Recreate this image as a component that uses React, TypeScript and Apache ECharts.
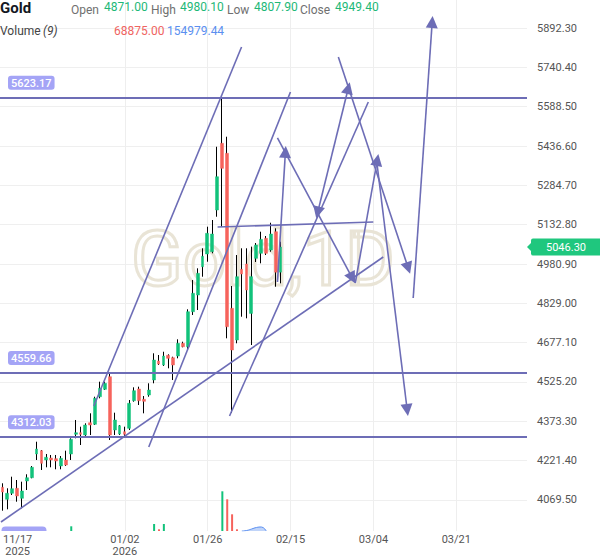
import React, { useEffect, useRef } from 'react';
import * as echarts from 'echarts';

const barCount = 108;
const tickIndex = [3, 25, 42, 59, 76, 93];
const tickLabels = ['11/17\n2025', '01/02\n2026', '01/26', '02/15', '03/04', '03/21'];
const gridTickIndex = [25, 42, 59, 76, 93];

const opens = [4118.5, 4072.1, 4095.3, 4114.6, 4076.0, 4142.8, 4155.5, 4247.1, 4259.8, 4223.9,
  4231.6, 4228.9, 4200.7, 4223.9, 4247.1, 4323.1, 4329.3, 4320.4, 4367.9, 4361.8,
  4468.3, 4496.9, 4545.6, 4339.8, 4324.3, 4333.2, 4346.3, 4452.9, 4498.1, 4458.3,
  4474.9, 4532.8, 4606.2, 4590.8, 4628.2, 4619.0, 4625.5, 4674.6, 4661.4, 4796.6,
  4861.1, 4970.4, 5019.5, 5028.3, 5189.4, 5447.0, 5408.4, 4809.7, 4687.3, 4960.4,
  4980.8, 4790.0, 5002.8, 5022.2, 5080.1, 5034.9, 5105.6, 4949.4];
const closes = [4100.3, 4095.3, 4113.0, 4084.8, 4104.2, 4155.5, 4195.7, 4266.4, 4211.1, 4234.3,
  4223.9, 4220.0, 4230.4, 4204.6, 4303.8, 4329.3, 4323.1, 4359.0, 4359.0, 4462.2,
  4500.7, 4520.1, 4320.4, 4378.4, 4356.3, 4323.1, 4442.9, 4491.5, 4452.9, 4450.6,
  4494.2, 4610.1, 4594.6, 4625.5, 4616.6, 4590.8, 4674.6, 4661.4, 4796.6, 4867.7,
  4944.9, 5010.6, 5099.4, 5096.7, 5318.0, 5350.4, 4738.7, 4648.7, 4931.8, 4942.2,
  4880.4, 4932.0, 5054.2, 5076.2, 5022.2, 5096.7, 4949.4, 5046.3];
const lows = [4028.1, 4033.5, 4088.7, 4062.8, 4037.3, 4108.0, 4153.2, 4223.9, 4185.3, 4195.7,
  4195.7, 4188.0, 4188.0, 4200.7, 4223.9, 4307.7, 4281.8, 4313.9, 4320.4, 4359.0,
  4462.2, 4494.2, 4301.1, 4320.4, 4320.4, 4312.03, 4339.8, 4449.0, 4436.3, 4404.2,
  4468.3, 4520.1, 4590.8, 4586.9, 4578.0, 4532.8, 4616.6, 4659.1, 4651.4, 4783.9,
  4803.2, 4931.8, 4989.7, 5022.2, 5163.5, 5124.9, 4693.9, 4405.4, 4674.6, 4777.3,
  4771.1, 4668.0, 4988.6, 4983.5, 5015.6, 5028.3, 4893.2, 4906.3];
const highs = [4133.9, 4114.6, 4159.4, 4146.6, 4140.1, 4168.7, 4200.7, 4294.5, 4262.5, 4247.1,
  4243.2, 4243.2, 4239.3, 4259.8, 4307.7, 4378.4, 4352.5, 4365.6, 4404.2, 4468.3,
  4526.3, 4526.3, 4559.66, 4406.6, 4359.0, 4352.5, 4455.6, 4504.6, 4507.0, 4471.0,
  4520.1, 4636.0, 4629.4, 4642.1, 4632.1, 4622.8, 4690.0, 4680.8, 4805.9, 4919.0,
  4964.2, 5041.5, 5124.9, 5150.8, 5433.8, 5623.17, 5472.5, 4895.9, 5015.6, 5041.5,
  5041.5, 5048.0, 5061.9, 5105.6, 5089.0, 5140.3, 5118.7, 5067.0];

const volumeIndex = [14, 31, 32, 33, 45, 46, 47, 48];
const volumeValues = [17700, 26400, 6400, 26400, 149500, 119400, 62900, 6400];
const volumeUp = [true, true, false, true, true, false, false, false];
const volumeMaIndex = [49, 50, 51, 52, 53, 54];
const volumeMaValues = [0, 1900, 7500, 13200, 15100, 0];

const levelPrices = [5623.17, 4559.66, 4312.03];
const lastPrice = 5046.3;

// [startIndex, startPrice, endIndex, endPrice, headAtStart, headAtEnd]
const segments: [number, number, number, number, boolean, boolean][] = [
  [18.73, 4432.5, 49.0, 5819.0, false, false],
  [-0.3, 3984.5, 78.04, 5007.9, false, false],
  [29.98, 4274.2, 59.02, 5645.2, false, false],
  [46.54, 4393.8, 74.98, 5606.6, false, false],
  [44.09, 5123.8, 76.0, 5143.1, false, false],
  [56.36, 4911.4, 57.99, 5413.5, false, true],
  [56.36, 5467.6, 71.7, 4926.8, false, true],
  [72.31, 4907.5, 76.82, 5382.5, false, true],
  [64.6, 5180.0, 70.88, 5660.5, true, true],
  [68.84, 5780.4, 83.16, 4965.4, false, true],
  [76.82, 5359.4, 82.95, 4416.9, false, true],
  [84.18, 4849.5, 88.07, 5915.4, false, true],
];

const noteTexts = ['1st signal', 'A', '1st early confirmation'];
const noteIndex = [47.22, 44.9, 61.95];
const notePrice = [4594.0, 4424.7, 4356.4];

const headerLabels = ['Open', 'High', 'Low', 'Close'];
const headerValues = [4871.0, 4980.1, 4807.9, 4949.4];
const volumeHeader = [68875.0, 154979.44];

const GREEN = '#12c27b';
const RED = '#f6635c';
const LINE = '#6d6db6';

export default function App() {
  const ref = useRef<HTMLDivElement>(null);
  useEffect(() => {
    document.body.style.margin = '0';
    if (!ref.current) return;
    const chart = echarts.init(ref.current, null, { renderer: 'svg' });
    const categories = Array.from({ length: barCount }, (_, i) => String(i));
    const candleData = opens.map((o, i) => [o, closes[i], lows[i], highs[i]]);
    const bodyData = opens.map((o, i) => [o, closes[i], Math.min(o, closes[i]), Math.max(o, closes[i])]);
    const vol: any[] = opens.map(() => null);
    volumeIndex.forEach((idx, k) => {
      vol[idx] = { value: volumeValues[k], itemStyle: { color: volumeUp[k] ? GREEN : RED } };
    });
    const volMa: any[] = opens.map(() => null);
    volumeMaIndex.forEach((idx, k) => { volMa[idx] = volumeMaValues[k]; });

    const headerXs = [71, 151, 227, 300];
    const valueXs = [104, 180, 254, 335];
    const graphics: any[] = [
      { id: 'wm', type: 'text', x: 263, y: 259, z: 1, silent: true,
        style: { text: 'Gold,1D', font: '76px Roboto', fill: 'rgba(255,255,255,0)', stroke: '#e9e4d6', lineWidth: 3, align: 'center', verticalAlign: 'middle' } },
      { id: 'h0', type: 'text', x: 0, y: 8, z: 100, style: { text: 'Gold', font: 'bold 15px Roboto', fill: '#131722', verticalAlign: 'middle' } },
      { id: 'h1', type: 'text', x: 0, y: 31, z: 100, style: { text: 'Volume', font: '12px Roboto', fill: '#444', verticalAlign: 'middle' } },
      { id: 'h2', type: 'text', x: 43, y: 31, z: 100, style: { text: '(9)', font: 'italic 12px Roboto', fill: '#444', verticalAlign: 'middle' } },
      { id: 'h3', type: 'text', x: 114, y: 31, z: 100, style: { text: volumeHeader[0].toFixed(2), font: '12px Roboto', fill: '#ef6461', verticalAlign: 'middle' } },
      { id: 'h4', type: 'text', x: 167, y: 31, z: 100, style: { text: volumeHeader[1].toFixed(2), font: '12px Roboto', fill: '#5b8ff0', verticalAlign: 'middle' } },
      { id: 'bl', type: 'rect', z: 100, shape: { x: 1.5, y: 526.5, width: 45, height: 4.5, r: [4, 4, 0, 0] }, style: { fill: '#a4a4f6' } },
    ];
    headerLabels.forEach((t, i) => {
      graphics.push({ id: 'hl' + i, type: 'text', x: headerXs[i], y: 10, z: 100, style: { text: t, font: '12px Roboto', fill: '#707070', verticalAlign: 'middle' } });
      graphics.push({ id: 'hv' + i, type: 'text', x: valueXs[i], y: 6.5, z: 100, style: { text: headerValues[i].toFixed(2), font: '12px Roboto', fill: '#1db877', verticalAlign: 'middle' } });
    });

    const markData: any[] = levelPrices.map((p) => ({
      yAxis: p,
      symbol: 'none',
      lineStyle: { color: LINE, width: 2, type: 'solid' },
      label: {
        show: true, position: 'insideStartTop', formatter: () => p.toFixed(2), distance: 8,
        color: '#fff', backgroundColor: '#a4a4f6', padding: [2, 3, 1, 3], borderRadius: 3, fontSize: 11, fontWeight: 500,
      },
    }));
    segments.forEach(([x1, p1, x2, p2, h1, h2]) => {
      markData.push([
        { coord: [x1, p1], symbol: h1 ? 'triangle' : 'none', symbolSize: [12, 12] },
        { coord: [x2, p2], symbol: h2 ? 'triangle' : 'none', symbolSize: [12, 12] },
      ]);
    });

    const option: any = {
      animation: false,
      textStyle: { fontFamily: 'Roboto' },
      graphic: { elements: graphics },
      grid: [
        { left: 0, width: 527, top: 0, height: 539.3 },
        { left: 2.44, width: 522.1, top: 0, height: 531 },
      ],
      xAxis: [
        { type: 'category', gridIndex: 0, data: categories, show: false, boundaryGap: true },
        {
          type: 'category', gridIndex: 1, data: categories, boundaryGap: false,
          axisLine: { show: false }, axisTick: { show: false },
          axisLabel: {
            interval: (i: number) => tickIndex.includes(i),
            formatter: (_v: string, i: number) => tickLabels[tickIndex.indexOf(i)] ?? '',
            color: '#555', fontSize: 11, lineHeight: 12, margin: 2,
          },
          splitLine: { show: true, interval: (i: number) => gridTickIndex.includes(i), lineStyle: { color: '#eeeeee', width: 1 } },
        },
        { type: 'value', gridIndex: 0, min: -0.5, max: 107.5, show: false },
      ],
      yAxis: [
        {
          type: 'value', gridIndex: 0, position: 'right', min: 3917.6, max: 6000.56, interval: 151.9,
          axisLine: { show: false }, axisTick: { show: false },
          axisLabel: { formatter: (v: number) => v.toFixed(2), color: '#555', fontSize: 11, margin: 10, showMinLabel: false, showMaxLabel: false },
          splitLine: { lineStyle: { color: '#efefef' }, showMinLine: false, showMaxLine: false },
        },
        { type: 'value', gridIndex: 1, min: 0, max: 2000000, show: false },
      ],
      series: [
        { type: 'bar', xAxisIndex: 1, yAxisIndex: 1, data: vol, barWidth: 2, z: 1 },
        {
          type: 'line', xAxisIndex: 1, yAxisIndex: 1, data: volMa, smooth: true, symbol: 'none', z: 1,
          lineStyle: { color: '#5b8ff0', width: 1 }, areaStyle: { color: 'rgba(91,143,240,0.55)' },
        },
        {
          type: 'candlestick', xAxisIndex: 0, yAxisIndex: 0, data: candleData, barWidth: 1, z: 3,
          itemStyle: { color: '#000', color0: '#000', borderColor: '#000', borderColor0: '#000', borderWidth: 1 },
        },
        {
          type: 'candlestick', xAxisIndex: 0, yAxisIndex: 0, data: bodyData, barWidth: 3.3, z: 4,
          itemStyle: { color: GREEN, color0: RED, borderColor: GREEN, borderColor0: RED, borderWidth: 0.5 },
        },
        {
          type: 'line', xAxisIndex: 2, yAxisIndex: 0, data: [], z: 5,
          markLine: {
            silent: true, animation: false, symbol: 'none',
            lineStyle: { color: LINE, width: 1.6, type: 'solid' },
            itemStyle: { color: LINE },
            label: { show: false },
            emphasis: { disabled: true },
            data: markData,
          },
        },
        {
          type: 'scatter', xAxisIndex: 2, yAxisIndex: 0, symbolSize: 1, z: 6,
          itemStyle: { opacity: 0 },
          data: noteTexts.map((t, i) => ({ value: [noteIndex[i], notePrice[i]], name: t })),
          label: {
            show: true, position: 'inside', formatter: (p: any) => p.name,
            color: '#fff', backgroundColor: '#f40d0d', borderRadius: 3, fontSize: 15, lineHeight: 16, padding: [1, 4, 1, 4],
          },
        },
      ],
    };
    chart.setOption(option);
    const ty = chart.convertToPixel({ yAxisIndex: 0 }, lastPrice) as number;
    chart.setOption({
      graphic: {
        elements: [
          { id: 'tagNotch', type: 'polygon', z: 100, shape: { points: [[532, ty - 5], [527, ty], [532, ty + 5]] }, style: { fill: '#1fc77e' } },
          { id: 'tagRect', type: 'rect', z: 100, shape: { x: 531, y: ty - 8.5, width: 75, height: 17, r: 2 }, style: { fill: '#1fc77e' } },
          { id: 'tagText', type: 'text', z: 101, x: 566, y: ty, style: { text: lastPrice.toFixed(2), font: '11px Roboto', fill: '#fff', align: 'center', verticalAlign: 'middle' } },
        ],
      },
    });
    return () => chart.dispose();
  }, []);
  return <div ref={ref} style={{ width: 600, height: 558 }} />;
}
